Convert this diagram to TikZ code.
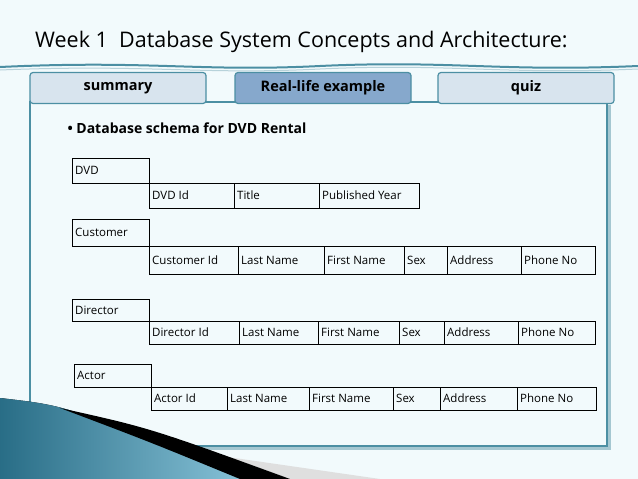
\documentclass[tikz,border=0pt]{standalone}
\usepackage{fontspec}
\setmainfont{Open Sans}
\definecolor{bgc}{HTML}{F2FAFC}
\definecolor{teal}{HTML}{4C8FA3}
\definecolor{tabc}{HTML}{D8E4EE}
\definecolor{tabon}{HTML}{86A8CC}
\definecolor{wedge}{HTML}{3A9CC0}
\tikzset{
  tab/.style={draw=teal,very thick,fill=tabc,rounded corners=3pt,minimum width=176pt,minimum height=31pt,font=\fontsize{14.5}{16}\bfseries},
  cell/.style={draw=black,thin,inner sep=0pt},
  ctext/.style={font=\fontsize{11.5}{12}\selectfont,anchor=west,inner sep=3pt}
}
% one table row: y top, y bottom, list of x edges with labels
\newcommand{\rowcells}[3]{%
  \foreach \xa/\xb/\txt in {#3} {
    \draw[cell] (\xa,#1) rectangle (\xb,#2);
    \node[ctext] at (\xa,{(#1+#2)/2}) {\txt};
  }}
\begin{document}
\begin{tikzpicture}[x=1pt,y=-1pt]
  \useasboundingbox (0,0) rectangle (638,479);
  \fill[bgc] (0,0) rectangle (638,479);

  % title and wave
  \node[font=\fontsize{21.5}{24}\selectfont,anchor=base west,inner sep=0pt] (title) at (35,47) {Week 1\ \ Database System Concepts and Architecture:};
  \draw[teal,line width=2pt] (0,67) .. controls (150,60) and (200,72) .. (320,66) .. controls (450,60) and (500,72) .. (638,66);
  \draw[teal!40,line width=1pt] (0,70) .. controls (150,64) and (200,75) .. (320,69) .. controls (450,63) and (500,75) .. (638,69);

  % panel
  \fill[teal!50] (33,105) rectangle (611,450);
  \draw[teal,very thick,fill=bgc] (30,102) rectangle (607,446);

  % tabs
  \node[tab] (summary) at (118,88) {summary};
  \node[tab,fill=tabon] (reallife) at (323,88) {Real-life example};
  \node[tab] (quiz) at (526,88) {quiz};

  \node[anchor=west,font=\fontsize{14}{16}\bfseries] (bullet) at (64,128) {\textbullet\ Database schema for DVD Rental};

  % DVD
  \rowcells{158}{183}{72/149/DVD}
  \rowcells{183}{208}{149/234/DVD Id,234/319/Title,319/419/Published Year}
  % Customer
  \rowcells{219}{246}{72/149/Customer}
  \rowcells{246}{274}{149/238/Customer Id,238/324/Last Name,324/404/First Name,404/447/Sex,447/521/Address,521/595/Phone No}
  % Director
  \rowcells{299}{321}{72/149/Director}
  \rowcells{321}{344}{149/239/Director Id,239/318/Last Name,318/399/First Name,399/444/Sex,444/518/Address,518/595/Phone No}
  % Actor
  \rowcells{364}{387}{74/151/Actor}
  \rowcells{387}{410}{151/227/Actor Id,227/309/Last Name,309/393/First Name,393/440/Sex,440/517/Address,517/596/Phone No}

  % corner wedge
  \fill[gray!25] (110,440) -- (380,479) -- (230,479) -- cycle;
  \fill[left color=wedge!70!black,right color=wedge!60] (0,398) .. controls (60,405) .. (150,440) -- (250,479) -- (0,479) -- cycle;
  \fill[black] (60,408) .. controls (150,428) .. (290,479) -- (240,479) .. controls (150,442) .. (60,408) -- cycle;
\end{tikzpicture}
\end{document}
